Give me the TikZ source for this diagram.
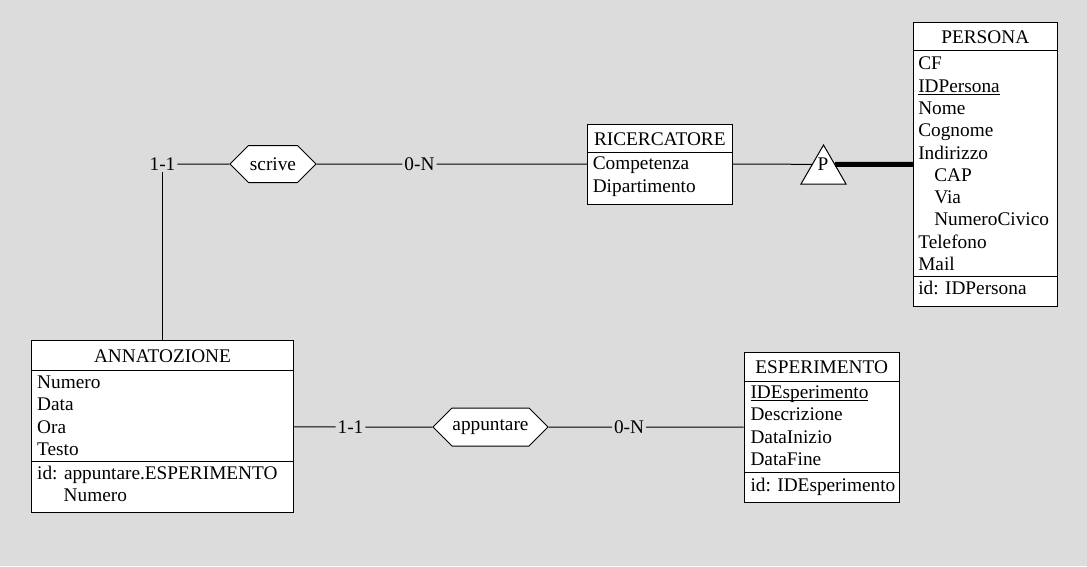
\documentclass[tikz,border=0pt]{standalone}
\usepackage{fontspec}
\setmainfont{Liberation Serif}
\usetikzlibrary{shapes.geometric,shapes.symbols}
\definecolor{bggray}{RGB}{220,220,220}
\newcommand\idattr[1]{\setbox0\hbox{#1}\rlap{\rule[-2.4pt]{\wd0}{0.9pt}}\box0}

\begin{document}
\begin{tikzpicture}[x=1pt, y=-1pt, line width=1pt,
    every node/.style={font=\fontsize{19.3}{22.3}\selectfont},
    entity/.style={draw, fill=white, inner sep=0pt},
    etitle/.style={anchor=base, inner sep=0pt},
    attr/.style={anchor=base west, inner sep=0pt},
    rel/.style={draw, fill=white, signal, signal to=west and east, signal pointer angle=90, inner sep=0pt},
    card/.style={inner sep=1.5pt},
    isa/.style={draw, fill=white, regular polygon, regular polygon sides=3, minimum size=52, inner sep=0pt}
]
\fill[bggray] (0,0) rectangle (1087,566);
\useasboundingbox (0,0) rectangle (1087,566);

% PERSONA
\node[entity, minimum width=144, minimum height=284.4] (persona) at (985.3,164.5) {};
\node[etitle] (persona-t) at ([shift={(0,22)}]persona.north) {PERSONA};
\draw ([shift={(0,29)}]persona.north west) -- ([shift={(0,29)}]persona.north east);
\foreach \a [count=\i] in {CF, \idattr{IDPersona}, Nome, Cognome, Indirizzo, \hspace*{16pt}CAP, \hspace*{16pt}Via, \hspace*{16pt}NumeroCivico, Telefono, Mail}
    \node[attr] (persona-a\i) at ([shift={(5,{25.7+22.3*\i})}]persona.north west) {\a};
\draw ([shift={(0,255)}]persona.north west) -- ([shift={(0,255)}]persona.north east);
\node[attr] (persona-id) at ([shift={(5,273)}]persona.north west) {id: IDPersona};

% RICERCATORE
\node[entity, minimum width=145, minimum height=80] (ric) at (659.8,164.2) {};
\node[etitle] (ric-t) at ([shift={(0,22)}]ric.north) {RICERCATORE};
\draw ([shift={(0,29)}]ric.north west) -- ([shift={(0,29)}]ric.north east);
\foreach \a [count=\i] in {Competenza, Dipartimento}
    \node[attr] (ric-a\i) at ([shift={(5.5,{23.7+22.3*\i})}]ric.north west) {\a};

% ANNATOZIONE
\node[entity, minimum width=261.6, minimum height=172] (annot) at (162.5,426.7) {};
\node[etitle] (annot-t) at ([shift={(0,22.3)}]annot.north) {ANNATOZIONE};
\draw ([shift={(0,30)}]annot.north west) -- ([shift={(0,30)}]annot.north east);
\foreach \a [count=\i] in {Numero, Data, Ora, Testo}
    \node[attr] (annot-a\i) at ([shift={(5.5,{26+22.3*\i})}]annot.north west) {\a};
\draw ([shift={(0,121.3)}]annot.north west) -- ([shift={(0,121.3)}]annot.north east);
\node[attr] (annot-id) at ([shift={(5.5,139.3)}]annot.north west) {id: appuntare.ESPERIMENTO};
\node[attr] (annot-id2) at ([shift={(32,161.6)}]annot.north west) {Numero};

% ESPERIMENTO
\node[entity, minimum width=155.3, minimum height=150] (esp) at (821.7,427.3) {};
\node[etitle] (esp-t) at ([shift={(0,21.2)}]esp.north) {ESPERIMENTO};
\draw ([shift={(0,29.4)}]esp.north west) -- ([shift={(0,29.4)}]esp.north east);
\foreach \a [count=\i] in {\idattr{IDEsperimento}, Descrizione, DataInizio, DataFine}
    \node[attr] (esp-a\i) at ([shift={(6.5,{24.4+22.3*\i})}]esp.north west) {\a};
\draw ([shift={(0,120.7)}]esp.north west) -- ([shift={(0,120.7)}]esp.north east);
\node[attr] (esp-id) at ([shift={(6.5,139.7)}]esp.north west) {id: IDEsperimento};

% relationships
\node[rel, minimum width=86, minimum height=37] (scrive) at (273,164) {scrive};
\node[rel, minimum width=115, minimum height=38] (app) at (490.5,427) {appuntare};

\node[card] (c1) at (162.5,164) {1-1};
\node[card] (c2) at (419.5,164) {0-N};
\node[card] (c3) at (350.5,427) {1-1};
\node[card] (c4) at (629,427) {0-N};

% generalization
\node[isa] (isa) at (823.5,171) {};
\node[inner sep=0pt] (isa-p) at (823,164) {P};

\draw (c1) -- (annot);
\draw (c1) -- (scrive);
\draw (scrive) -- (c2);
\draw (c2) -- (ric);
\draw (annot) -- (c3);
\draw (c3) -- (app);
\draw (app) -- (c4);
\draw (c4) -- (esp);
\draw (ric) -- (isa.side 1);
\draw[line width=5pt] (isa.side 3) -- (persona);
\end{tikzpicture}
\end{document}
